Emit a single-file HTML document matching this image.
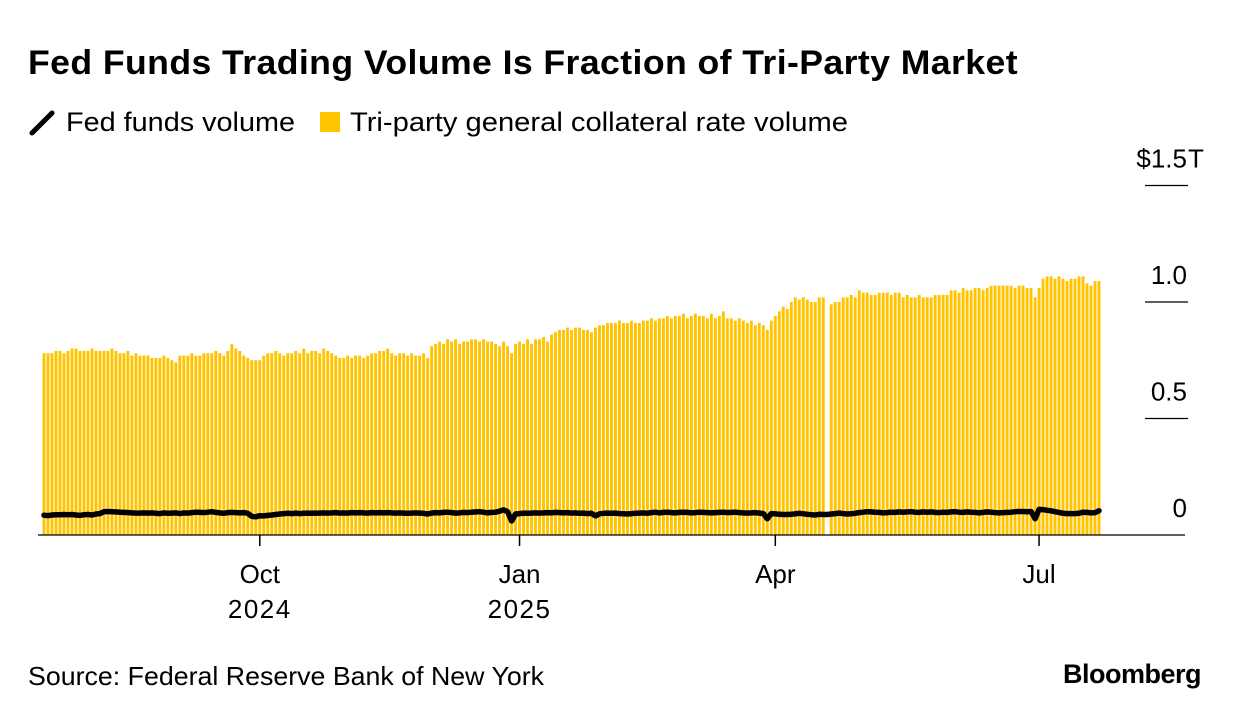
<!DOCTYPE html>
<html><head><meta charset="utf-8"><style>
body{margin:0;background:#fff;font-family:"Liberation Sans",sans-serif;}
#wrap{position:relative;width:1240px;height:718px;overflow:hidden;}
</style></head><body>
<div id="wrap">
<svg id="chart" width="1240" height="718">
<text x="28" y="74" font-size="34" font-weight="bold" letter-spacing="0.4" textLength="990" lengthAdjust="spacingAndGlyphs" fill="#000">Fed Funds Trading Volume Is Fraction of Tri-Party Market</text>
<g>
<line x1="32" y1="133" x2="52" y2="113" stroke="#000" stroke-width="5" stroke-linecap="round"/>
<text x="66" y="131" font-size="27" textLength="229" lengthAdjust="spacingAndGlyphs">Fed funds volume</text>
<rect x="320" y="112" width="20" height="20" fill="#FFC300"/>
<text x="350" y="131" font-size="27" textLength="498" lengthAdjust="spacingAndGlyphs">Tri-party general collateral rate volume</text>
</g>
<g id="bars"></g>
<g id="yaxis"></g>
<g id="xaxis"></g>
<path id="ffline" fill="none" stroke="#000" stroke-width="5.5" stroke-linejoin="round" stroke-linecap="round"/>
<text x="28" y="685" font-size="26" textLength="516" lengthAdjust="spacingAndGlyphs">Source: Federal Reserve Bank of New York</text>
<text x="1201" y="683" font-size="27" font-weight="bold" text-anchor="end" letter-spacing="-0.5">Bloomberg</text>
</svg>
</div>
<script>
const triParty = [
0.78,0.78,0.78,0.79,0.79,0.78,0.79,0.80,0.80,0.79,0.79,0.79,0.80,0.79,0.79,0.79,0.79,0.80,0.79,0.78,0.78,0.79,
0.77,0.78,0.77,0.77,0.77,0.76,0.76,0.76,0.77,0.76,0.75,0.74,0.77,
0.77,0.77,0.78,0.77,0.77,0.78,0.78,0.78,0.79,0.78,0.77,0.79,
0.82,0.80,0.79,0.77,0.76,0.75,0.75,
0.75,0.77,0.78,0.78,0.79,0.78,0.77,0.78,0.78,0.79,0.78,
0.80,0.78,0.79,0.79,0.78,0.80,0.79,0.78,0.77,
0.76,0.76,0.77,0.76,0.77,0.77,0.76,0.77,0.78,0.78,0.79,0.79,
0.80,0.78,0.77,0.78,0.78,0.77,0.78,0.77,0.77,0.78,0.76,0.81,
0.82,0.83,0.82,0.84,0.83,0.84,0.82,0.83,0.83,0.84,0.84,0.83,0.84,0.83,0.83,0.82,0.81,0.83,0.81,0.78,
0.82,0.83,0.82,0.84,0.82,0.84,0.84,0.85,0.83,0.86,
0.87,0.88,0.88,0.89,0.88,0.89,0.89,0.88,0.88,0.87,
0.89,0.90,0.90,0.91,0.91,0.91,0.92,0.91,0.91,0.92,0.91,0.91,0.92,0.92,0.93,0.92,
0.93,0.93,0.94,0.93,0.94,0.94,0.95,0.93,0.94,0.95,0.94,0.94,0.93,0.95,0.93,0.94,0.96,
0.93,0.93,0.92,0.93,0.92,0.91,0.92,0.90,0.91,0.90,0.88,
0.92,0.94,0.96,0.98,0.97,1.00,1.02,1.01,1.02,1.01,1.00,1.00,1.02,1.02,
null,
0.99,1.00,1.00,1.02,1.02,1.03,1.02,1.05,1.04,1.04,1.03,1.03,1.04,1.04,
1.04,1.03,1.04,1.04,1.02,1.03,1.02,1.02,1.03,1.02,1.02,1.02,1.03,1.03,1.03,
1.03,1.05,1.05,1.04,1.06,1.05,1.05,1.06,1.06,1.05,1.06,1.07,1.07,1.07,1.07,
1.07,1.07,1.06,1.07,1.07,1.06,1.06,1.02,
1.06,1.10,1.11,1.11,1.10,1.11,1.10,1.09,1.10,1.10,1.11,1.11,1.08,1.07,1.09,1.09];
const fedFunds = [
0.085,0.083,0.086,0.087,0.087,0.088,0.087,0.088,0.086,0.084,0.087,0.088,0.086,0.090,0.092,0.100,0.101,0.100,0.099,0.098,0.097,0.096,
0.095,0.094,0.094,0.095,0.094,0.095,0.093,0.092,0.095,0.093,0.094,0.095,0.092,
0.095,0.094,0.096,0.098,0.097,0.096,0.098,0.100,0.097,0.095,0.093,0.096,
0.097,0.096,0.095,0.096,0.093,0.080,0.078,
0.083,0.082,0.084,0.086,0.088,0.090,0.092,0.093,0.092,0.094,0.092,
0.093,0.094,0.093,0.094,0.094,0.095,0.094,0.095,0.096,
0.094,0.095,0.094,0.096,0.095,0.096,0.095,0.094,0.096,0.095,0.096,0.095,
0.096,0.095,0.094,0.095,0.094,0.093,0.094,0.095,0.094,0.093,0.090,0.094,
0.096,0.095,0.097,0.098,0.096,0.094,0.095,0.097,0.096,0.098,0.099,0.100,0.098,0.095,0.097,0.098,0.102,0.108,0.100,0.060,
0.090,0.092,0.094,0.093,0.094,0.095,0.094,0.095,0.096,0.095,
0.097,0.096,0.095,0.096,0.094,0.095,0.093,0.094,0.092,0.093,
0.082,0.091,0.093,0.094,0.093,0.094,0.092,0.091,0.090,0.092,0.093,0.094,0.095,0.093,0.096,0.098,
0.095,0.097,0.098,0.096,0.095,0.097,0.098,0.097,0.095,0.096,0.098,0.097,0.096,0.095,0.096,0.097,0.098,
0.096,0.097,0.098,0.096,0.095,0.094,0.095,0.096,0.094,0.092,0.070,
0.092,0.091,0.089,0.088,0.088,0.089,0.091,0.093,0.091,0.089,0.087,0.086,0.089,0.088,
0.088,
0.090,0.092,0.094,0.092,0.090,0.091,0.093,0.096,0.098,0.100,0.099,0.098,0.097,0.095,
0.096,0.098,0.097,0.099,0.098,0.099,0.100,0.098,0.097,0.099,0.098,0.099,0.097,0.096,0.098,
0.097,0.099,0.100,0.098,0.097,0.099,0.098,0.097,0.095,0.097,0.099,0.098,0.096,0.095,0.096,
0.097,0.098,0.100,0.101,0.101,0.100,0.101,0.070,
0.110,0.109,0.106,0.104,0.100,0.097,0.093,0.092,0.092,0.092,0.093,0.098,0.097,0.095,0.096,0.104];
const yTicks = [0, 0.5, 1.0, 1.5];
const yTickLabels = ["0", "0.5", "1.0", "$1.5"];
const xTickIdx = [54, 119, 183, 249];
const xTickMonth = ["Oct", "Jan", "Apr", "Jul"];
const xTickYear = ["2024", "2025", "", ""];

const NS = "http://www.w3.org/2000/svg";
const x0 = 44, step = (1099 - 44) / (triParty.length - 1), barW = 2.9;
const xs = i => x0 + i * step;
const ys = v => 535 - v * 233;
const mk = (t, a) => { const e = document.createElementNS(NS, t); for (const k in a) e.setAttribute(k, a[k]); return e; };
const bars = document.getElementById('bars');
triParty.forEach((v, i) => {
  if (v === null) return;
  const r = mk('rect', {x: xs(i) - barW / 2, y: ys(v), width: barW, height: 535 - ys(v), fill: '#FFC300'});
  
  
  bars.appendChild(r);
});
document.getElementById('ffline').setAttribute('d', fedFunds.map((v, i) => (i ? 'L' : 'M') + xs(i).toFixed(1) + ' ' + ys(v).toFixed(1)).join(' '));
const ya = document.getElementById('yaxis');
yTicks.forEach((t, i) => {
  const y = ys(t);
  const tx = mk('text', {x: 1187, y: y - 18, 'font-size': 26, 'text-anchor': 'end'});
  tx.textContent = yTickLabels[i];
  
  
  ya.appendChild(tx);
  if (i === yTicks.length - 1) {
    const u = mk('text', {x: 1188, y: y - 18, 'font-size': 26});
    u.textContent = 'T';
    
    
    ya.appendChild(u);
  }
  if (t > 0) {
    const l = mk('line', {x1: 1145, x2: 1188, y1: y, y2: y, stroke: '#000', 'stroke-width': 1.3});
    
    
    ya.appendChild(l);
  }
});
const xa = document.getElementById('xaxis');
const base = mk('line', {x1: 38, x2: 1185, y1: 535, y2: 535, stroke: '#000', 'stroke-width': 1.3});


xa.appendChild(base);
xTickIdx.forEach((idx, i) => {
  const x = xs(idx);
  const l = mk('line', {x1: x, x2: x, y1: 535, y2: 546, stroke: '#000', 'stroke-width': 1.5});
  
  
  xa.appendChild(l);
  const m = mk('text', {x: x, y: 583, 'font-size': 26, 'text-anchor': 'middle'});
  m.textContent = xTickMonth[i];
  
  
  xa.appendChild(m);
  if (xTickYear[i]) {
    const yr = mk('text', {x: x, y: 618, 'font-size': 26, 'text-anchor': 'middle', 'letter-spacing': 1.5});
    yr.textContent = xTickYear[i];
    
    
    xa.appendChild(yr);
  }
});
</script>
</body></html>
